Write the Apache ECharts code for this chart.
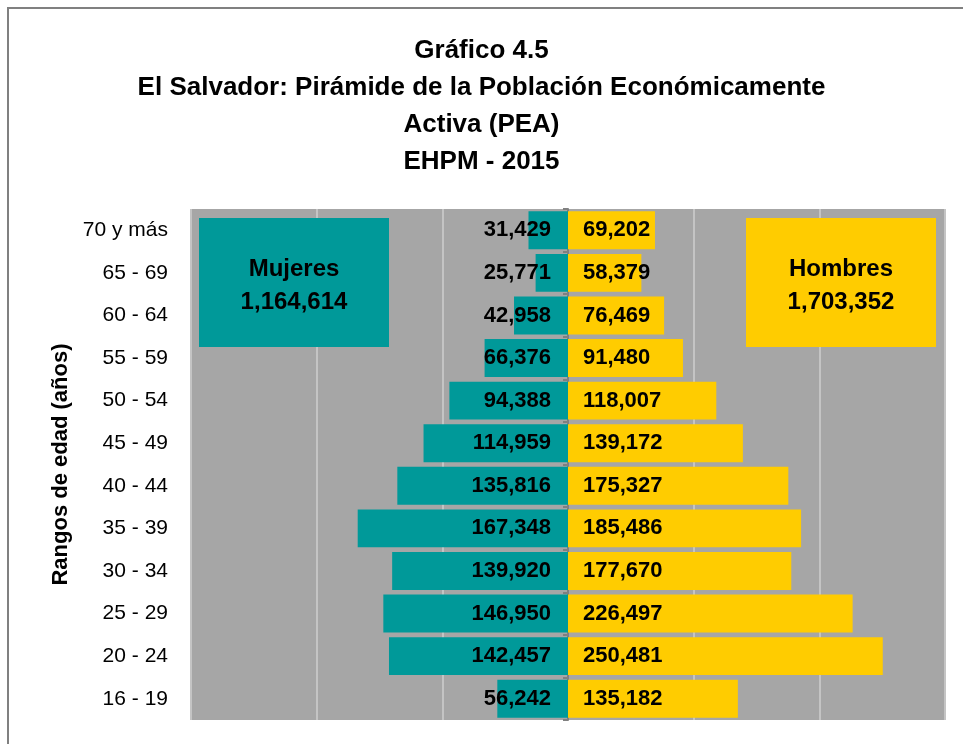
<!DOCTYPE html>
<html>
<head>
<meta charset="utf-8">
<script src="https://cdn.jsdelivr.net/npm/echarts@6/dist/echarts.min.js"></script>
<style>
  html, body { margin: 0; padding: 0; background: #fff; }
  #chart { width: 963px; height: 744px; }
</style>
</head>
<body>
<div id="chart"></div>
<script>
// rangos de edad, de arriba hacia abajo
var ageGroups = ['70 y más', '65 - 69', '60 - 64', '55 - 59', '50 - 54', '45 - 49',
  '40 - 44', '35 - 39', '30 - 34', '25 - 29', '20 - 24', '16 - 19'];
var mujeres = [31429, 25771, 42958, 66376, 94388, 114959, 135816, 167348, 139920, 146950, 142457, 56242];
var hombres = [69202, 58379, 76469, 91480, 118007, 139172, 175327, 185486, 177670, 226497, 250481, 135182];

var FONT = "'Liberation Sans Narrow', 'Arial Narrow', 'Liberation Sans', Arial, sans-serif";
var TEAL = '#009999';
var YELLOW = '#ffcc00';

function fmt(v) {
  return Math.abs(v).toLocaleString('en-US');
}
function sum(arr) {
  return arr.reduce(function (a, b) { return a + b; }, 0);
}

var dom = document.getElementById('chart');
var myChart = echarts.init(dom, null, { renderer: 'canvas' });

var option = {
  animation: false,
  backgroundColor: '#ffffff',
  textStyle: { fontFamily: FONT },
  title: {
    text: 'Gráfico 4.5\nEl Salvador: Pirámide de la Población Económicamente\nActiva (PEA)\nEHPM - 2015',
    left: 'center',
    top: 27,
    textStyle: {
      fontFamily: FONT,
      fontSize: 26,
      fontWeight: 'bold',
      color: '#000',
      lineHeight: 37
    }
  },
  grid: {
    left: 191,
    right: 18,
    top: 209,
    bottom: 24,
    show: true,
    backgroundColor: '#a6a6a6',
    borderWidth: 0
  },
  xAxis: {
    type: 'value',
    min: -300000,
    max: 300000,
    interval: 100000,
    axisLabel: { show: false },
    axisLine: { show: false },
    axisTick: { show: false },
    splitLine: { show: true, lineStyle: { color: '#c4c4c4', width: 2 } }
  },
  yAxis: {
    type: 'category',
    inverse: true,
    data: ageGroups,
    name: 'Rangos de edad (años)',
    nameLocation: 'middle',
    nameGap: 110,
    nameRotate: 90,
    nameTextStyle: { fontFamily: FONT, fontSize: 22, fontWeight: 'bold', color: '#000' },
    axisLine: { show: true, onZero: true, lineStyle: { color: '#808080', width: 2 } },
    axisTick: { show: true, length: 5, lineStyle: { color: '#808080', width: 2 } },
    axisLabel: {
      show: true,
      fontFamily: FONT,
      fontSize: 21,
      color: '#000',
      margin: 23
    }
  },
  series: [
    {
      name: 'Mujeres',
      type: 'bar',
      barGap: '-100%',
      barCategoryGap: '11%',
      itemStyle: { color: TEAL },
      data: mujeres.map(function (v) { return -v; }),
      label: {
        show: true,
        position: 'insideRight',
        distance: 17,
        formatter: function (p) { return fmt(p.value); },
        fontFamily: FONT,
        fontSize: 22,
        fontWeight: 'bold',
        color: '#000'
      }
    },
    {
      name: 'Hombres',
      type: 'bar',
      barGap: '-100%',
      barCategoryGap: '11%',
      itemStyle: { color: YELLOW },
      data: hombres,
      label: {
        show: true,
        position: 'insideLeft',
        distance: 15,
        formatter: function (p) { return fmt(p.value); },
        fontFamily: FONT,
        fontSize: 22,
        fontWeight: 'bold',
        color: '#000'
      }
    }
  ],
  graphic: [
    {
      type: 'rect',
      shape: { x: 8, y: 8, width: 1000, height: 800 },
      style: { fill: null, stroke: '#808080', lineWidth: 2 },
      z: 0
    },
    {
      type: 'rect', z: 50,
      shape: { x: 199, y: 218, width: 190, height: 129 },
      style: { fill: TEAL }
    },
    {
      type: 'text', z: 51, x: 294, y: 286,
      style: {
        text: 'Mujeres\n' + fmt(sum(mujeres)),
        align: 'center', verticalAlign: 'middle',
        font: 'bold 24px ' + FONT, lineHeight: 33, fill: '#000'
      }
    },
    {
      type: 'rect', z: 50,
      shape: { x: 746, y: 218, width: 190, height: 129 },
      style: { fill: YELLOW }
    },
    {
      type: 'text', z: 51, x: 841, y: 286,
      style: {
        text: 'Hombres\n' + fmt(sum(hombres)),
        align: 'center', verticalAlign: 'middle',
        font: 'bold 24px ' + FONT, lineHeight: 33, fill: '#000'
      }
    }
  ]
};

if (option && typeof option === 'object') {
  myChart.clear();
  myChart.setOption(option, true);
}
window.addEventListener('resize', function () {
  myChart.resize();
});
</script>
</body>
</html>
